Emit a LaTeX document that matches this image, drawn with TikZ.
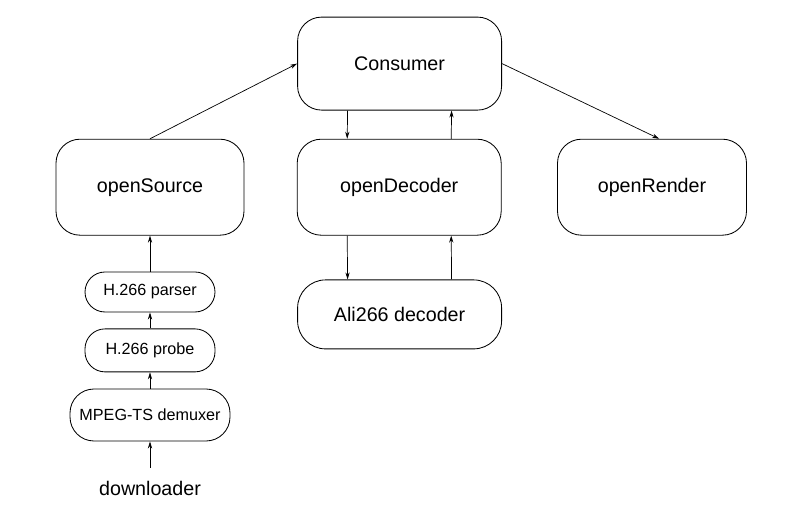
\documentclass[tikz,border=0pt]{standalone}
\usepackage{fontspec}
\setmainfont{Liberation Sans}
\usetikzlibrary{arrows.meta}

\begin{document}
\begin{tikzpicture}[
  bigbox/.style={draw, rounded corners=0.6cm, line width=0.6pt, minimum width=5.1cm, minimum height=2.4cm, font=\fontsize{14}{16}\selectfont},
  smallbox/.style={draw, rounded corners=0.5cm, line width=0.6pt, minimum width=3.25cm, font=\fontsize{11.5}{13}\selectfont},
  link/.style={-{Stealth[length=5pt,width=3pt]}, line width=0.5pt}
]
\useasboundingbox (0,0) rectangle (20.2,-13.2);

% Player modules
\node[bigbox, minimum height=2.325cm] (consumer) at (9.99,-1.59) {Consumer};
\node[bigbox, minimum width=4.7cm] (source) at (3.75,-4.68) {openSource};
\node[bigbox] (decoder) at (9.98,-4.68) {openDecoder};
\node[bigbox, minimum width=4.725cm] (render) at (16.3,-4.68) {openRender};
\node[bigbox, minimum height=1.725cm, rounded corners=0.7cm] (ali) at (9.99,-7.86) {Ali266 decoder};

% Source chain
\node[smallbox, minimum height=1.0cm] (parser) at (3.75,-7.3) {H.266 parser};
\node[smallbox, minimum height=1.075cm] (probe) at (3.75,-8.76) {H.266 probe};
\node[smallbox, minimum width=4.0cm, minimum height=1.3cm, rounded corners=0.6cm] (demuxer) at (3.75,-10.375) {MPEG-TS demuxer};
\node[font=\fontsize{14}{16}\selectfont, inner ysep=9pt] (downloader) at (3.75,-12.2) {downloader};

% Data flow
\draw[link] (source.north) -- (consumer.west);
\draw[link] (consumer.east) -- ([xshift=0.18cm]render.north);
\draw[link] ([xshift=-1.3cm]consumer.south) -- ([xshift=-1.3cm]decoder.north);
\draw[link] ([xshift=1.3cm]decoder.north) -- ([xshift=1.3cm]consumer.south);
\draw[link] ([xshift=-1.3cm]decoder.south) -- ([xshift=-1.3cm]ali.north);
\draw[link] ([xshift=1.3cm]ali.north) -- ([xshift=1.3cm]decoder.south);

\draw[link] (parser.north) -- (source.south);
\draw[link] (probe.north) -- (parser.south);
\draw[link] (demuxer.north) -- (probe.south);
\draw[link] (downloader.north) -- (demuxer.south);
\end{tikzpicture}
\end{document}
